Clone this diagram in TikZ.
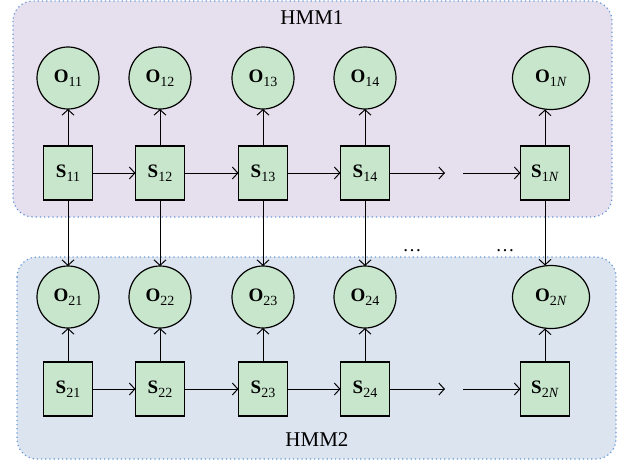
\documentclass[tikz,border=0pt]{standalone}
\usepackage{fontspec}
\setmainfont{Liberation Serif}
\usetikzlibrary{arrows.meta,shapes.geometric}
\definecolor{nodegreen}{RGB}{200,230,204}
\definecolor{lav}{RGB}{230,224,238}
\definecolor{pblue}{RGB}{220,228,240}
\definecolor{dotblue}{RGB}{100,150,215}
\newcommand{\nlab}[2]{{\bfseries #1}\raisebox{-4pt}{\fontsize{14}{14}\selectfont #2}}
\begin{document}
\begin{tikzpicture}[x=1pt,y=-1pt,
  every node/.style={font=\fontsize{19}{22}\selectfont, inner sep=0pt, outer sep=0pt},
  obs/.style={circle, draw, fill=nodegreen, line width=1.2pt, minimum size=62pt},
  obsw/.style={ellipse, draw, fill=nodegreen, line width=1.2pt, minimum width=77pt, minimum height=63pt},
  st/.style={rectangle, draw, fill=nodegreen, line width=1.2pt, minimum width=49pt, minimum height=54pt},
  arr/.style={line width=1pt, -{Straight Barb[length=5.5pt,width=12pt,line width=1pt]}},
  hmmbox/.style={draw=dotblue, line width=1.2pt, dash pattern=on 1.2pt off 3pt, rounded corners=20pt},
  lbl/.style={font=\fontsize{21}{24}\selectfont},
  dots/.style={anchor=base, font=\fontsize{19}{22}\selectfont}
]
\useasboundingbox (0,0) rectangle (621,466);
\path[hmmbox, fill=lav] (13,1) rectangle (612,217);
\path[hmmbox, fill=pblue] (17,257) rectangle (616,459);
\node[lbl] (h1) at (312,18) {HMM1};
\node[lbl] (h2) at (317,440) {HMM2};
% HMM1
\node[obs] (o11) at (68,78) {\nlab{O}{11}};
\node[obs] (o12) at (160,78) {\nlab{O}{12}};
\node[obs] (o13) at (263,78) {\nlab{O}{13}};
\node[obs] (o14) at (365,78) {\nlab{O}{14}};
\node[obsw] (o1N) at (551,78) {\nlab{O}{1\textit{N}}};
\node[st] (s11) at (68,173) {\nlab{S}{11}};
\node[st] (s12) at (160,173) {\nlab{S}{12}};
\node[st] (s13) at (263,173) {\nlab{S}{13}};
\node[st] (s14) at (365,173) {\nlab{S}{14}};
\node[st] (s1N) at (545,173) {\nlab{S}{1\textit{N}}};
% HMM2
\node[obs] (o21) at (68,297) {\nlab{O}{21}};
\node[obs] (o22) at (160,297) {\nlab{O}{22}};
\node[obs] (o23) at (263,297) {\nlab{O}{23}};
\node[obs] (o24) at (365,297) {\nlab{O}{24}};
\node[obsw] (o2N) at (551,297) {\nlab{O}{2\textit{N}}};
\node[st] (s21) at (68,389) {\nlab{S}{21}};
\node[st] (s22) at (160,389) {\nlab{S}{22}};
\node[st] (s23) at (263,389) {\nlab{S}{23}};
\node[st] (s24) at (365,389) {\nlab{S}{24}};
\node[st] (s2N) at (545,389) {\nlab{S}{2\textit{N}}};
% dots
\node[dots] (d1) at (412,251) {\ldots};
\node[dots] (d2) at (505,251) {\ldots};
% gap coordinates
\coordinate (g1a) at (445,173);
\coordinate (g1b) at (463,173);
\coordinate (g2a) at (445,389);
\coordinate (g2b) at (463,389);
% emission arrows
\foreach \r in {1,2}{
  \foreach \k in {1,2,3,4}{
    \draw[arr] (s\r\k) -- (o\r\k);
  }
  \draw[arr] (s\r N.north) -- (s\r N.north |- o\r N.south);
}
% transitions
\foreach \r in {1,2}{
  \draw[arr] (s\r1) -- (s\r2);
  \draw[arr] (s\r2) -- (s\r3);
  \draw[arr] (s\r3) -- (s\r4);
  \draw[arr] (s\r4) -- (g\r a);
  \draw[arr] (g\r b) -- (s\r N);
}
% coupling
\foreach \k in {1,2,3,4}{
  \draw[arr] (s1\k) -- (o2\k);
}
\draw[arr] (s1N.south) -- (s1N.south |- o2N.north);
\end{tikzpicture}
\end{document}
